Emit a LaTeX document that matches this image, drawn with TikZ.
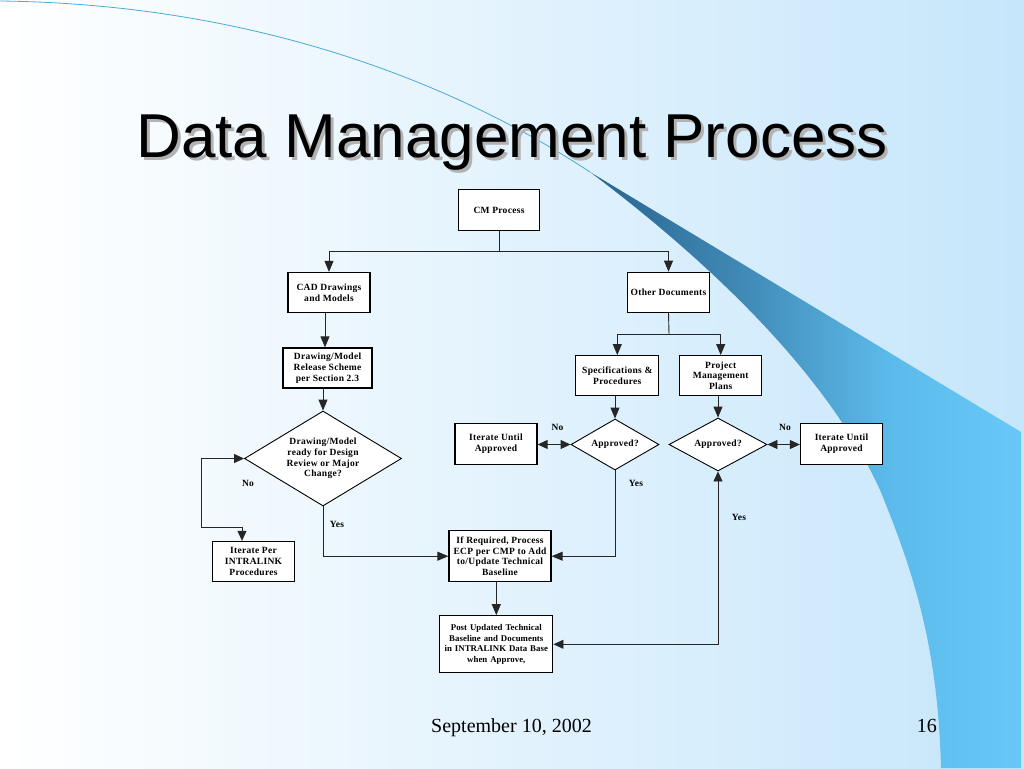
\documentclass[tikz,border=0pt]{standalone}
\usepackage{fontspec}
\setmainfont{Liberation Serif}
\newfontfamily\titlefont{Liberation Sans}
\newfontfamily\boxfont{Liberation Serif}[LetterSpace=3]
\newfontfamily\boxfontn{Liberation Serif}[LetterSpace=0.5]
\usetikzlibrary{arrows.meta,shapes.geometric}
\definecolor{bgr}{RGB}{198,230,251}
\definecolor{sw1}{RGB}{40,100,142}
\definecolor{sw2}{RGB}{63,136,180}
\definecolor{sw3}{RGB}{92,187,235}
\definecolor{sw4}{RGB}{103,200,247}
\definecolor{thinline}{RGB}{74,168,220}
\pgfdeclarehorizontalshading{swoosh}{100bp}{color(0bp)=(sw1); color(25bp)=(sw1); color(42bp)=(sw2); color(60bp)=(sw3); color(75bp)=(sw4); color(100bp)=(sw4)}
\newcommand\bxf{\boxfont\bfseries\fontsize{9.5}{10.8}\selectfont}
\newcommand\bxfn{\boxfontn\bfseries\fontsize{8.8}{10.8}\selectfont}
\tikzset{
  box/.style={draw=black, line width=1.3pt, fill=white, align=center, inner sep=1pt, font=\bxf},
  dia/.style={diamond, draw=black, line width=0.9pt, fill=white, inner sep=0pt, align=center, font=\bxf},
  conn/.style={line width=0.9pt, draw=black!85},
  arr/.style={conn, -{Triangle[length=11pt,width=9pt]}},
  dbl/.style={conn, {Triangle[length=10pt,width=9pt]}-{Triangle[length=10pt,width=9pt]}},
  lbl/.style={font=\bxf, inner sep=0pt}
}
\begin{document}
\begin{tikzpicture}[x=1pt,y=-1pt]
\useasboundingbox (0,0) rectangle (1024,768);
% background
\shade[left color=white, right color=bgr] (0,0) rectangle (1024,768);
% swoosh
\shade[shading=swoosh] (590,172) -- (1021,432) -- (1021,768) -- (941,768)
  .. controls (938,650) and (915,575) .. (880,490)
  .. controls (830,380) and (720,270) .. (590,172) -- cycle;
\draw[thinline, line width=0.8pt] (0,1) .. controls (250,4) and (450,80) .. (590,172);
% title
\node[anchor=base, inner sep=0pt, font=\titlefont\fontsize{62}{62}\selectfont, text=black!30] (titleshadow) at (515,160) {Data Management Process};
\node[anchor=base, inner sep=0pt, font=\titlefont\fontsize{62}{62}\selectfont, text=black] (title) at (512,157) {Data Management Process};
% footer
\node[anchor=base, inner sep=0pt, font=\fontsize{20}{24}\selectfont] (date) at (511.5,732) {September 10, 2002};
\node[anchor=base east, inner sep=0pt, font=\fontsize{20}{24}\selectfont] (page) at (937,732) {16};
% nodes
\node[box, minimum width=81pt, minimum height=41pt] (cm) at (499,210) {CM Process};
\node[box, minimum width=82pt, minimum height=40pt] (cad) at (329,292.5) {CAD Drawings\\and Models};
\node[box, minimum width=89pt, minimum height=40pt] (dm) at (327.5,368) {Drawing/Model\\Release Scheme\\per Section 2.3};
\node[box, minimum width=82pt, minimum height=40pt] (od) at (668.5,292.3) {Other Documents};
\node[box, minimum width=83pt, minimum height=40pt] (spec) at (617.3,375.7) {Specifications \&\\Procedures};
\node[box, minimum width=82pt, minimum height=40pt] (pmp) at (720.7,375.7) {Project\\Management\\Plans};
\node[dia, minimum width=88pt, minimum height=51pt, shape aspect=1.72] (ap1) at (615,444.5) {Approved?};
\node[dia, minimum width=98pt, minimum height=53pt, shape aspect=1.85] (ap2) at (718,444.5) {Approved?};
\node[box, minimum width=82pt, minimum height=41pt] (itl) at (496,443.7) {Iterate Until\\Approved};
\node[box, minimum width=82pt, minimum height=41pt] (itr) at (841.5,443.7) {Iterate Until\\Approved};
\node[dia, minimum width=157pt, minimum height=95pt, shape aspect=1.65] (big) at (323,458.5) {Drawing/Model\\ready for Design\\Review or Major\\Change?};
\node[box, minimum width=82pt, minimum height=40pt] (itp) at (253.5,561.5) {Iterate Per\\INTRALINK\\Procedures};
\node[box, minimum width=102pt, minimum height=51pt] (ecp) at (500,556.2) {If Required, Process\\ECP per CMP to Add\\to/Update Technical\\Baseline};
\node[box, font=\bxfn, text width=111pt, minimum height=57pt] (post) at (496.3,644.3) {Post Updated Technical\\Baseline and Documents\\in INTRALINK Data Base\\when Approve,};
% labels
\node[lbl] (no1) at (557.5,427.5) {No};
\node[lbl] (no2) at (785,427.5) {No};
\node[lbl] (yes1) at (636,483) {Yes};
\node[lbl] (no3) at (248,483) {No};
\node[lbl] (yes2) at (337,524) {Yes};
\node[lbl] (yes3) at (739,517.5) {Yes};
% connectors
\coordinate (j1) at (499,251);
\draw[conn] (cm.south) -- (j1);
\draw[arr] (j1) -| (cad.north);
\draw[arr] (j1) -| (od.north);
\draw[arr] (cad.south -| 325,0) -- (dm.north -| 325,0);
\draw[arr] (big.north |- dm.south) -- (big.north);
\coordinate (j2) at (669,334);
\draw[conn] (od.south) -- (j2);
\draw[arr] (j2) -| (spec.north);
\draw[arr] (j2) -| (pmp.north);
\draw[arr] (ap1.north |- spec.south) -- (ap1.north);
\draw[arr] (ap2.north |- pmp.south) -- (ap2.north);
\draw[dbl] (itl.east |- ap1.west) -- (ap1.west);
\draw[dbl] (ap2.east) -- (itr.west |- ap2.east);
\draw[arr] (big.south) |- (ecp.west);
\draw[arr] (ap1.south) |- (ecp.east);
\draw[arr] (post.north |- ecp.south) -- (post.north);
\coordinate (l1) at (201,527);
\draw[dbl] (big.west) -| (l1) -| ([xshift=-11.5pt]itp.north);
\draw[dbl] (post.east) -| (ap2.south);
\end{tikzpicture}
\end{document}
